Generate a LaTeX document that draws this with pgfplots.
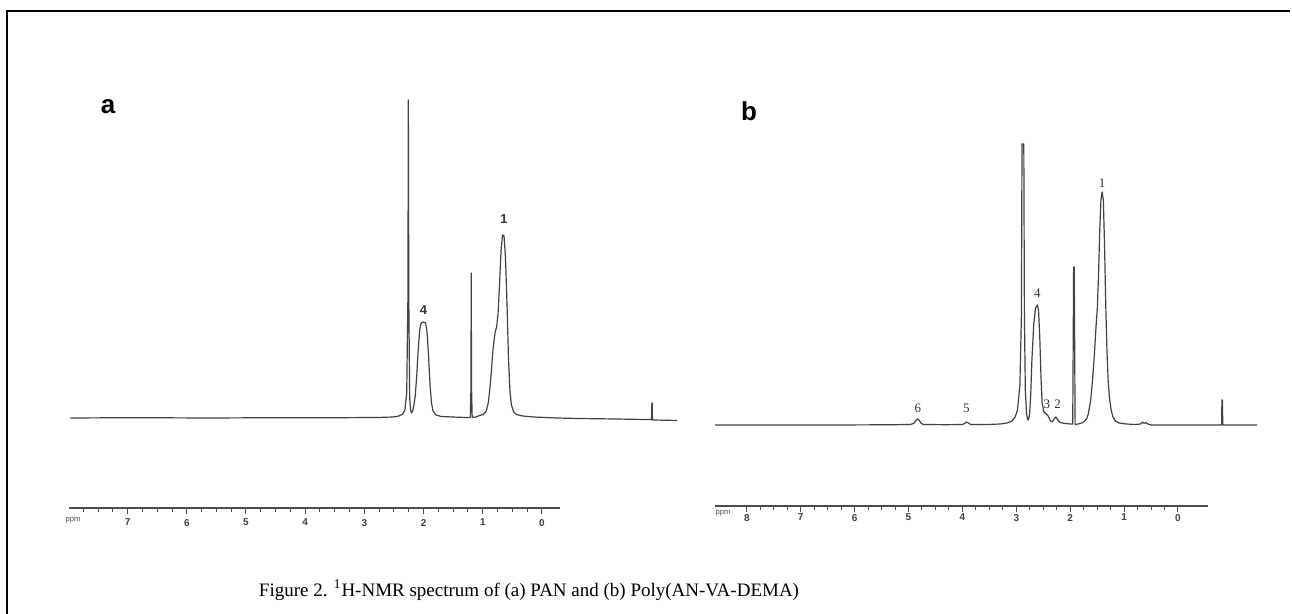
\documentclass[border=0pt]{standalone}
\usepackage{fontspec}
\setmainfont{Liberation Sans}
\newfontfamily\timesfont{Liberation Serif}
\usepackage{pgfplots}
\pgfplotsset{compat=1.18}

% 1 px of the reference = 0.5pt
\pgfplotsset{
  spec/.style={anchor=south west, scale only axis, x dir=reverse,
    axis lines=none, clip=false},
  ruler/.style={anchor=south west, scale only axis, x dir=reverse,
    height=10pt, ymin=0, ymax=1, axis x line=bottom, hide y axis,
    axis line style={-, black!70, line width=0.6pt},
    xtick={0,...,8}, minor x tick num=3, xtick align=outside,
    major tick length=3pt, minor tick length=1.8pt,
    tick style={black!70, line width=0.5pt},
    xticklabel style={font=\fontsize{5}{6}\selectfont\bfseries, text=black!75},
    /pgf/number format/assume math mode=true},
  trace/.style={black!75, line width=0.6pt, line join=round, mark=none}
}

\begin{document}
\begin{tikzpicture}
\path[use as bounding box] (0,0) rectangle (646pt,307pt);
\draw[line width=1pt] (3.5pt,0) -- (3.5pt,301.5pt) -- (645pt,301.5pt);

% ---- panel a: spectrum
\begin{axis}[spec, at={(35.2pt,93pt)}, width=303.4pt, height=170pt,
  xmin=-0.34, xmax=7.86, ymin=-10, ymax=330]
\addplot[trace] coordinates {
 (7.86,0) (7.0,0.3) (6.0,0) (5.0,0.3) (4.2,0.3) (3.7,0.5) (3.5,1) (3.42,2)
 (3.37,4) (3.34,8) (3.315,25) (3.299,120) (3.293,318) (3.287,120) (3.275,20)
 (3.262,8) (3.25,5) (3.235,7) (3.22,12) (3.20,22) (3.18,42) (3.16,68)
 (3.14,88) (3.12,95) (3.09,96) (3.06,95) (3.04,86) (3.02,62) (3.00,33)
 (2.98,15) (2.96,7) (2.92,3) (2.85,1.5) (2.7,1) (2.52,0.5) (2.455,0.5)
 (2.447,30) (2.443,145) (2.439,30) (2.43,0.5) (2.38,1) (2.33,2.5) (2.28,3.5)
 (2.24,7) (2.21,16) (2.18,38) (2.15,68) (2.12,86) (2.10,91) (2.08,105)
 (2.06,135) (2.04,168) (2.02,183) (2.00,182) (1.98,160) (1.96,115) (1.94,60)
 (1.92,27) (1.90,13) (1.87,6) (1.83,3.5) (1.75,2) (1.6,1) (1.3,0) (1.0,-0.5)
 (0.5,-1) (0.1,-1.5) (0.006,-1.5) (0.002,15) (-0.002,15) (-0.006,-2) (-0.34,-2.5)
};
\node[font=\bfseries\fontsize{6.5}{7}\selectfont, text=black!80] at (axis cs:3.09,108) {4};
\node[font=\bfseries\fontsize{6.5}{7}\selectfont, text=black!80] at (axis cs:2.0,199) {1};
\end{axis}

% ---- panel a: ppm scale
\begin{axis}[ruler, at={(34.5pt,53pt)}, width=245.5pt,
  xmin=-0.304, xmax=7.99, xticklabel style={yshift=1pt}]
\addplot[draw=none] coordinates {(0,0)};
\end{axis}
\node[font=\fontsize{3.8}{4}\selectfont, text=black!70] at (36.5pt,47pt) {ppm};

% ---- panel b: spectrum
\begin{axis}[spec, at={(357.5pt,89.5pt)}, width=271pt, height=155pt,
  xmin=-0.58, xmax=8.45, ymin=-10, ymax=300]
\addplot[trace] coordinates {
 (8.45,0) (7.5,0) (6.5,0) (5.6,0.2) (5.2,0.5) (5.14,1.5) (5.11,4) (5.08,6)
 (5.05,5) (5.02,2) (4.98,0.5) (4.6,0.3) (4.33,0.5) (4.29,1.5) (4.26,3)
 (4.23,2) (4.19,0.5) (3.9,0.5) (3.7,1) (3.58,2) (3.5,4) (3.45,8) (3.41,15)
 (3.37,40) (3.345,110) (3.335,281) (3.305,281) (3.295,110) (3.28,35)
 (3.26,12) (3.245,6) (3.23,5) (3.21,10) (3.19,30) (3.17,65) (3.14,100)
 (3.11,117) (3.08,120) (3.06,115) (3.04,90) (3.02,50) (3.00,22) (2.97,13)
 (2.93,11) (2.90,9) (2.86,4) (2.83,3) (2.80,6) (2.77,8) (2.74,5) (2.70,2.5)
 (2.62,1.5) (2.53,1) (2.49,1) (2.475,158) (2.465,158) (2.45,0.5) (2.40,1)
 (2.34,2) (2.30,3.5) (2.26,6) (2.23,11) (2.19,25) (2.16,45) (2.13,70)
 (2.10,100) (2.08,117) (2.06,150) (2.04,195) (2.02,225) (2.00,233) (1.98,225)
 (1.96,180) (1.94,120) (1.92,75) (1.90,45) (1.88,28) (1.85,15) (1.82,8)
 (1.78,4) (1.72,2) (1.6,1) (1.45,0.5) (1.36,1) (1.33,3) (1.30,1.5) (1.27,2.5)
 (1.24,1) (1.18,0) (0.8,0) (0.3,0) (0.01,0) (0.004,25) (-0.004,25) (-0.01,0)
 (-0.58,0)
};
\node[font=\timesfont\fontsize{6.5}{7}\selectfont, text=black!80] at (axis cs:5.07,17) {6};
\node[font=\timesfont\fontsize{6.5}{7}\selectfont, text=black!80] at (axis cs:4.26,17) {5};
\node[font=\timesfont\fontsize{6.5}{7}\selectfont, text=black!80] at (axis cs:3.08,132) {4};
\node[font=\timesfont\fontsize{6.5}{7}\selectfont, text=black!80] at (axis cs:2.92,21) {3};
\node[font=\timesfont\fontsize{6.5}{7}\selectfont, text=black!80] at (axis cs:2.74,21) {2};
\node[font=\timesfont\fontsize{6.5}{7}\selectfont, text=black!80] at (axis cs:2.0,242) {1};
\end{axis}

% ---- panel b: ppm scale
\begin{axis}[ruler, at={(357.5pt,54pt)}, width=246.5pt,
  xmin=-0.557, xmax=8.59, xticklabel style={yshift=2.5pt}]
\addplot[draw=none] coordinates {(0,0)};
\end{axis}
\node[font=\fontsize{3.8}{4}\selectfont, text=black!70] at (361.5pt,50.5pt) {ppm};

% panel letters and caption
\node[font=\bfseries\fontsize{13}{14}\selectfont] at (54pt,253.5pt) {a};
\node[font=\bfseries\fontsize{13}{14}\selectfont] at (374.5pt,251.5pt) {b};
\node[font=\timesfont\fontsize{9.5}{11}\selectfont] at (264.5pt,12pt)
  {Figure 2. \textsuperscript{1}H-NMR spectrum of (a) PAN and (b) Poly(AN-VA-DEMA)};
\end{tikzpicture}
\end{document}
